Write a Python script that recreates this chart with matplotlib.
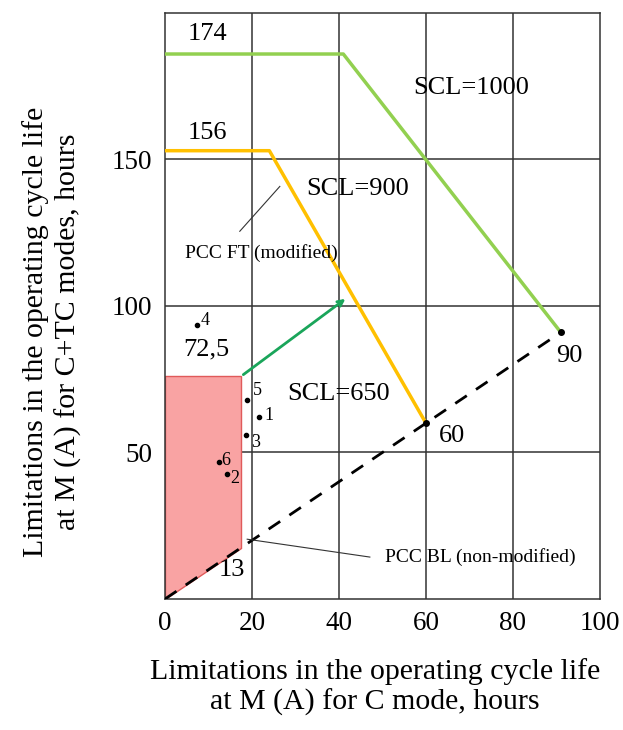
import matplotlib.pyplot as plt
import matplotlib.patches as mpatches

plt.rcParams['font.family'] = ['Liberation Serif', 'DejaVu Serif']

# SCL=1000 boundary (drawn position, labelled 174)
scl1000_x = [0, 41, 91]
scl1000_y = [186, 186, 91]
# SCL=900 boundary (drawn position, labelled 156)
scl900_x = [0, 24, 60]
scl900_y = [153, 153, 60]
# PCC BL diagonal
bl_x = [0, 91]
bl_y = [0, 91]
# shaded region
region_x = [0, 0, 17.5, 17.5]
region_y = [0, 76, 76, 17.5]
# measured points
pt_labels = ['1', '2', '3', '4', '5', '6']
pt_x = [21.7, 14.3, 18.6, 7.4, 18.9, 12.4]
pt_y = [62.2, 42.5, 55.8, 93.5, 68.0, 46.9]

fig = plt.figure(figsize=(6.23, 7.3), dpi=100)
ax = fig.add_axes([0.2648, 0.1795, 0.6982, 0.8027])

ax.set_xlim(0, 100)
ax.set_ylim(0, 200)
ax.set_xticks([0, 20, 40, 60, 80, 100])
ax.set_yticks([50, 100, 150])
ax.tick_params(length=0, labelsize=19.5, pad=9)
for v in [20, 40, 60, 80]:
    ax.axvline(v, color='#333333', lw=1.1, zorder=1)
for v in [50, 100, 150]:
    ax.axhline(v, color='#333333', lw=1.1, zorder=1)
for s in ax.spines.values():
    s.set_color('#333333')
    s.set_linewidth(1.1)

ax.add_patch(mpatches.Polygon(list(zip(region_x, region_y)), closed=True,
                              facecolor='#f9a3a3', edgecolor='#e05a5a', lw=1, zorder=2))
ax.plot(bl_x, bl_y, color='black', lw=2, ls=(0, (5, 4)), zorder=3)
ax.plot(scl1000_x, scl1000_y, color='#92d050', lw=2.5, zorder=4)
ax.plot(scl900_x, scl900_y, color='#ffc000', lw=2.5, zorder=4)
ax.plot([60, 91], [60, 91], 'o', color='black', ms=4, ls='none', zorder=5)

ax.annotate('', xy=(42, 103), xytext=(17.5, 76),
            arrowprops=dict(arrowstyle='->', color='#1aa55a', lw=2), zorder=5)

ax.plot(pt_x, pt_y, 'o', color='black', ms=3, ls='none', zorder=5)
offs = {'1': (1.2, 0.5), '2': (0.8, -1.5), '3': (1.2, -2.5), '4': (0.8, 1.5),
        '5': (1.2, 3.0), '6': (0.6, 0.5)}
for lab, x, y in zip(pt_labels, pt_x, pt_y):
    dx, dy = offs[lab]
    ax.text(x + dx, y + dy, lab, fontsize=13, va='center', ha='left', zorder=6)

ax.text(9.7, 193, '174', fontsize=19, va='center', ha='center')
ax.text(9.7, 159, '156', fontsize=19, va='center', ha='center')
ax.text(57, 174.5, 'SCL=1000', fontsize=19, va='center')
ax.text(32.5, 140, 'SCL=900', fontsize=19, va='center')
ax.text(28, 70, 'SCL=650', fontsize=19, va='center')
ax.text(9.4, 85, '72,5', fontsize=19, va='center', ha='center')
ax.text(15.4, 10, '13', fontsize=19, va='center', ha='center')
ax.text(66, 55.5, '60', fontsize=19, va='center', ha='center')
ax.text(93, 83, '90', fontsize=19, va='center', ha='center')

ax.plot([26.4, 17.2], [140.8, 125.5], color='#333333', lw=0.8, zorder=5)
ax.text(22.1, 118, 'PCC FT (modified)', fontsize=14, va='center', ha='center', zorder=6)
ax.plot([18.9, 47.1], [20.4, 14.3], color='#333333', lw=0.8, zorder=5)
ax.text(72.4, 14.3, 'PCC BL (non-modified)', fontsize=14, va='center', ha='center', zorder=6)

ax.set_xlabel('Limitations in the operating cycle life\nat M (A) for C mode, hours',
              fontsize=21.5, linespacing=1.2)
ax.set_ylabel('Limitations in the operating cycle life\nat M (A) for C+TC modes, hours',
              fontsize=21.5, linespacing=1.3)
ax.xaxis.set_label_coords(0.483, -0.1)
ax.yaxis.set_label_coords(-0.19, 0.456)

fig.savefig('out.png', dpi=100)
